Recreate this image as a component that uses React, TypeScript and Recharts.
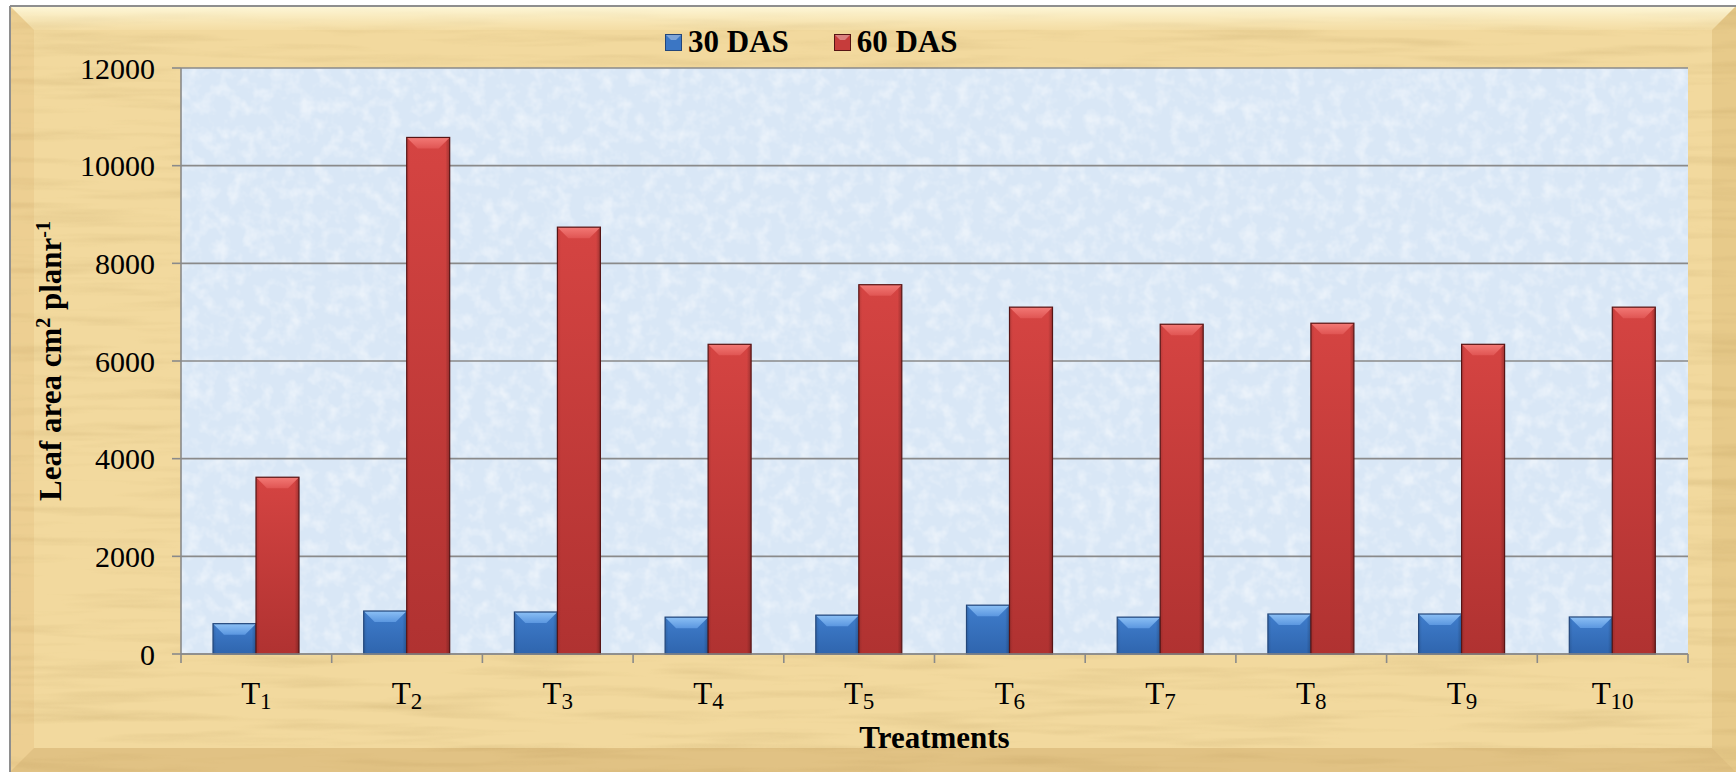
import { BarChart, Bar, XAxis, YAxis, CartesianGrid, Legend, Label } from 'recharts'

// leaf area per plant at two sampling dates
const treatments = ['1', '2', '3', '4', '5', '6', '7', '8', '9', '10']
const das30 = [621, 880, 860, 755, 796, 1000, 755, 819, 819, 758]
const das60 = [3620, 10578, 8741, 6342, 7562, 7103, 6753, 6774, 6342, 7103]
const yTicks = [0, 2000, 4000, 6000, 8000, 10000, 12000]
const seriesNames = ['30 DAS', '60 DAS']

const W = 1736
const H = 772
const SERIF = '"Liberation Serif", "Times New Roman", serif'
const AXIS_GREY = '#8a8a8a'

const data = treatments.map((t, i) => ({ name: t, d30: das30[i], d60: das60[i] }))

const tones = {
  blue: { key: 'blue', edge: '#23467a', swatch: '#3b76c4' },
  red: { key: 'red', edge: '#571414', swatch: '#c63c3b' },
}

// bevelled column, like the office "shape effect" bars
const bevelBar = (tone: { key: string; edge: string }) => (props: any) => {
  const { x, y, width, height } = props
  if (!height || height <= 0) return <g />
  const b = Math.min(11, height / 2, width / 2)
  return (
    <g>
      <rect x={x} y={y} width={width} height={height} fill={`url(#${tone.key}Body)`} />
      <rect x={x} y={y} width={width} height={height} fill={`url(#${tone.key}Side)`} />
      <polygon
        points={`${x},${y} ${x + width},${y} ${x + width - b},${y + b} ${x + b},${y + b}`}
        fill={`url(#${tone.key}Top)`}
      />
      <rect x={x} y={y} width={width} height={height} fill="none" stroke={tone.edge} strokeWidth={1.2} />
    </g>
  )
}

const BlueBar = bevelBar(tones.blue)
const RedBar = bevelBar(tones.red)

const Swatch = ({ tone }: { tone: { key: string; swatch: string; edge: string } }) => (
  <svg width={17} height={17} style={{ display: 'block' }}>
    <rect x={0.5} y={0.5} width={16} height={16} fill={tone.swatch} stroke={tone.edge} strokeWidth={1} />
    <polygon points="1,1 16,1 11,6 6,6" fill="#ffffff" opacity={0.35} />
  </svg>
)

const LegendContent = () => (
  <div
    style={{
      display: 'flex',
      alignItems: 'center',
      fontFamily: SERIF,
      fontWeight: 'bold',
      fontSize: 31,
      lineHeight: '36px',
      color: '#000',
      whiteSpace: 'nowrap',
    }}
  >
    {[tones.blue, tones.red].map((tone, i) => (
      <div key={tone.key} style={{ display: 'flex', alignItems: 'center', marginRight: i === 0 ? 45 : 0 }}>
        <Swatch tone={tone} />
        <span style={{ marginLeft: 6 }}>{seriesNames[i]}</span>
      </div>
    ))}
  </div>
)

// category label "T" with a subscript number; also draws the tick marks between categories
const TreatmentTick = (props: any) => {
  const { x, y, payload, index, visibleTicksCount } = props
  const half = payload?.offset ?? 0
  return (
    <g>
      {half > 0 && <line x1={x - half} x2={x - half} y1={y} y2={y + 9} stroke={AXIS_GREY} strokeWidth={1.6} />}
      {half > 0 && index === visibleTicksCount - 1 && (
        <line x1={x + half} x2={x + half} y1={y} y2={y + 9} stroke={AXIS_GREY} strokeWidth={1.6} />
      )}
      <text x={x} y={y + 50} textAnchor="middle" fontFamily={SERIF} fontSize={31} fill="#000">
        T
        <tspan fontSize={23} dy={5}>
          {payload.value}
        </tspan>
      </text>
    </g>
  )
}

const YTitle = (props: any) => {
  const vb = props.viewBox
  const cx = vb.x + 61
  const cy = vb.y + vb.height / 2
  return (
    <text
      x={cx}
      y={cy}
      transform={`rotate(-90 ${cx} ${cy})`}
      textAnchor="middle"
      fontFamily={SERIF}
      fontWeight="bold"
      fontSize={31}
      fill="#000"
    >
      Leaf area cm
      <tspan fontSize={20} dy={-11}>
        2
      </tspan>
      <tspan dy={11}>{' planr'}</tspan>
      <tspan fontSize={20} dy={-11}>
        -1
      </tspan>
    </text>
  )
}

const XTitle = (props: any) => {
  const vb = props.viewBox
  return (
    <text
      x={vb.x + vb.width / 2}
      y={vb.y + 94}
      textAnchor="middle"
      fontFamily={SERIF}
      fontWeight="bold"
      fontSize={31}
      fill="#000"
    >
      Treatments
    </text>
  )
}

// parchment frame behind the chart
const Parchment = () => {
  const b = 24
  const l = 10
  const t = 6
  return (
    <svg width={W} height={H} style={{ position: 'absolute', left: 0, top: 0 }}>
      <defs>
        <filter id="paper" x="0" y="0" width="100%" height="100%">
          <feTurbulence type="fractalNoise" baseFrequency="0.006 0.09" numOctaves={3} seed={7} />
          <feColorMatrix
            type="matrix"
            values="0 0 0 0 0.62  0 0 0 0 0.45  0 0 0 0 0.18  1.6 0 0 0 -0.75"
          />
        </filter>
        <linearGradient id="topBevel" x1="0" y1="0" x2="0" y2="1">
          <stop offset="0" stopColor="#fffbe0" stopOpacity={0.9} />
          <stop offset="1" stopColor="#fff4cc" stopOpacity={0.15} />
        </linearGradient>
      </defs>
      <rect x={0} y={0} width={W} height={H} fill="#ffffff" />
      <rect x={l} y={t} width={W - l} height={H - t} fill="#f2d99e" />
      <rect x={l} y={t} width={W - l} height={H - t} filter="url(#paper)" opacity={0.55} />
      <polygon points={`${l},${t} ${W},${t} ${W - b},${t + b} ${l + b},${t + b}`} fill="url(#topBevel)" />
      <polygon points={`${W},${t} ${W},${H} ${W - b},${H - b} ${W - b},${t + b}`} fill="#b07a25" opacity={0.16} />
      <polygon points={`${l},${H} ${W},${H} ${W - b},${H - b} ${l + b},${H - b}`} fill="#a06a1e" opacity={0.2} />
      <polygon points={`${l},${t} ${l + b},${t + b} ${l + b},${H - b} ${l},${H}`} fill="#c08030" opacity={0.1} />
      <line x1={l} x2={W} y1={t} y2={t} stroke="#8e8e8e" strokeWidth={2} />
      <line x1={l} x2={l} y1={t} y2={H} stroke="#8e8e8e" strokeWidth={2} />
    </svg>
  )
}

export default function App() {
  return (
    <div style={{ position: 'absolute', left: 0, top: 0, width: W, height: H }}>
      <Parchment />
      <div style={{ position: 'absolute', left: 0, top: 0 }}>
        <BarChart
          width={W}
          height={H}
          data={data}
          margin={{ top: 68, right: 48, left: 0, bottom: 0 }}
          barSize={43}
          barGap={0}
        >
          <defs>
            <filter id="frost" x="0" y="0" width="100%" height="100%">
              <feTurbulence type="fractalNoise" baseFrequency="0.07" numOctaves={3} seed={3} />
              <feColorMatrix
                type="matrix"
                values="0 0 0 0 1  0 0 0 0 1  0 0 0 0 1  2.4 0 0 0 -1.05"
              />
            </filter>
            <pattern id="plotBg" patternUnits="userSpaceOnUse" x={0} y={0} width={W} height={H}>
              <rect x={0} y={0} width={W} height={H} fill="#d9e7f6" />
              <rect x={0} y={0} width={W} height={H} filter="url(#frost)" opacity={0.45} />
            </pattern>
            <linearGradient id="blueBody" x1="0" y1="0" x2="0" y2="1">
              <stop offset="0" stopColor="#3f7dcc" />
              <stop offset="1" stopColor="#2f65ae" />
            </linearGradient>
            <linearGradient id="blueSide" x1="0" y1="0" x2="1" y2="0">
              <stop offset="0" stopColor="#000" stopOpacity={0.12} />
              <stop offset="0.08" stopColor="#000" stopOpacity={0} />
              <stop offset="0.9" stopColor="#000" stopOpacity={0} />
              <stop offset="1" stopColor="#000" stopOpacity={0.22} />
            </linearGradient>
            <linearGradient id="blueTop" x1="0" y1="0" x2="0" y2="1">
              <stop offset="0" stopColor="#8cc0f5" />
              <stop offset="1" stopColor="#5b97e0" />
            </linearGradient>
            <linearGradient id="redBody" x1="0" y1="0" x2="0" y2="1">
              <stop offset="0" stopColor="#d54442" />
              <stop offset="1" stopColor="#b03231" />
            </linearGradient>
            <linearGradient id="redSide" x1="0" y1="0" x2="1" y2="0">
              <stop offset="0" stopColor="#000" stopOpacity={0.12} />
              <stop offset="0.08" stopColor="#000" stopOpacity={0} />
              <stop offset="0.9" stopColor="#000" stopOpacity={0} />
              <stop offset="1" stopColor="#000" stopOpacity={0.25} />
            </linearGradient>
            <linearGradient id="redTop" x1="0" y1="0" x2="0" y2="1">
              <stop offset="0" stopColor="#f37a76" />
              <stop offset="1" stopColor="#e05553" />
            </linearGradient>
          </defs>
          <CartesianGrid
            vertical={false}
            stroke={AXIS_GREY}
            strokeWidth={1.6}
            fill="url(#plotBg)"
            fillOpacity={1}
          />
          <XAxis
            dataKey="name"
            height={118}
            interval={0}
            tickLine={false}
            tickSize={0}
            tickMargin={0}
            axisLine={{ stroke: AXIS_GREY, strokeWidth: 1.6 }}
            tick={<TreatmentTick />}
          >
            <Label content={XTitle} />
          </XAxis>
          <YAxis
            width={181}
            domain={[0, 12000]}
            ticks={yTicks}
            interval={0}
            tickSize={9}
            tickMargin={17}
            tickLine={{ stroke: AXIS_GREY, strokeWidth: 1.6 }}
            axisLine={{ stroke: AXIS_GREY, strokeWidth: 1.6 }}
            tick={{ fontFamily: SERIF, fontSize: 30, fill: '#000' }}
          >
            <Label content={YTitle} />
          </YAxis>
          <Legend
            layout="vertical"
            align="center"
            verticalAlign="middle"
            content={<LegendContent />}
            wrapperStyle={{ top: 24, left: 665, width: 'auto' }}
          />
          <Bar dataKey="d30" name={seriesNames[0]} shape={BlueBar} isAnimationActive={false} />
          <Bar dataKey="d60" name={seriesNames[1]} shape={RedBar} isAnimationActive={false} />
        </BarChart>
      </div>
    </div>
  )
}
